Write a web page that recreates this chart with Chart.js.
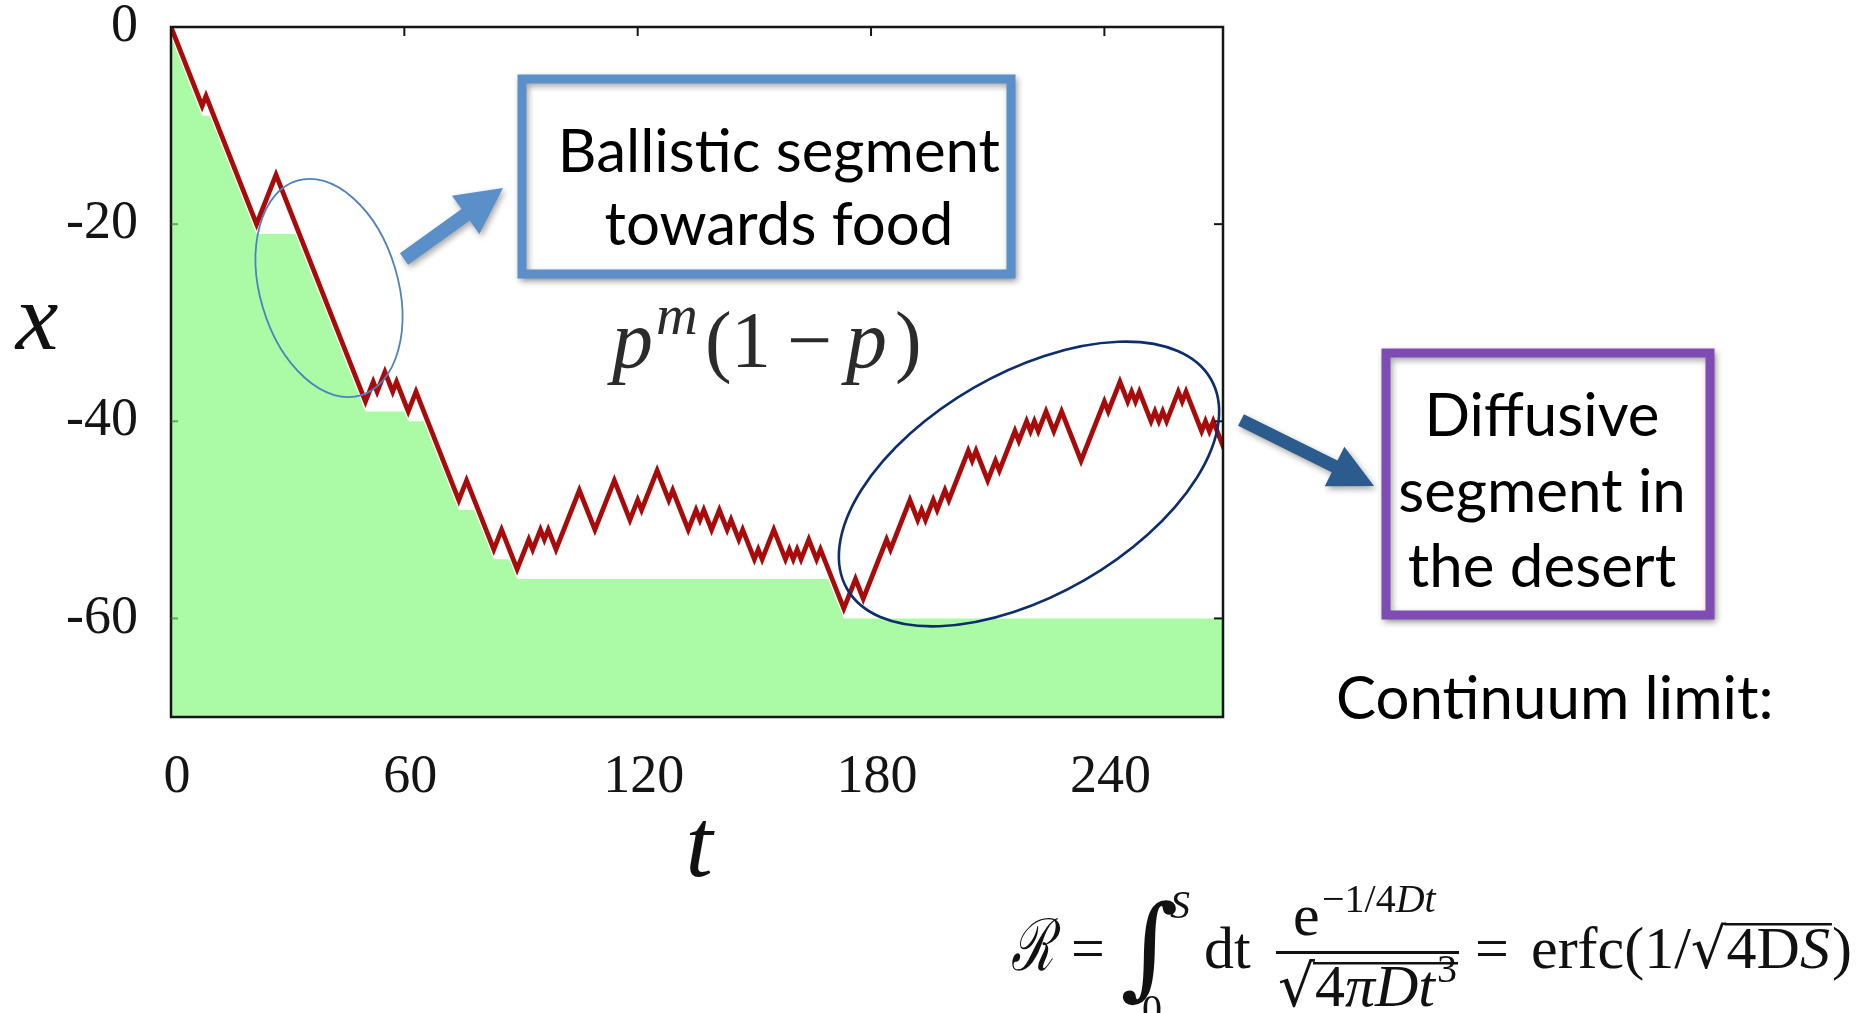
<!DOCTYPE html>
<html>
<head>
<meta charset="utf-8">
<script src="https://cdn.jsdelivr.net/npm/chart.js@4.4.1/dist/chart.umd.min.js"></script>
<style>
  html, body { margin: 0; padding: 0; background: #fff; overflow: hidden; }
  canvas { display: block; }
</style>
</head>
<body>
<canvas id="c" width="1857" height="1013" style="width:1857px;height:1013px"></canvas>
<script>
// Walker trajectory: turning points (time t, position x); unit steps between them
const walkT = [0, 8, 9, 22, 27, 50, 52, 53, 55, 57, 58, 61, 63, 74, 76, 83, 85, 89, 92, 93,
  95, 96, 97, 99, 105, 109, 114, 118, 120, 121, 125, 128, 129, 133, 135, 136, 137, 139, 141, 143,
  144, 146, 147, 150, 151, 152, 155, 158, 159, 160, 161, 162, 164, 166, 167, 173, 176, 178, 184, 185,
  190, 192, 193, 194, 196, 197, 199, 200, 205, 206, 207, 210, 212, 213, 217, 218, 220, 221, 222, 223,
  225, 227, 229, 234, 240, 241, 244, 246, 247, 248, 249, 252, 253, 254, 255, 256, 259, 260, 261, 265,
  266, 267, 268, 271];
const walkX = [0, -8, -7, -20, -15, -38, -36, -37, -35, -37, -36, -39, -37, -48, -46, -53, -51, -55, -52, -53,
  -51, -52, -51, -53, -47, -51, -46, -50, -48, -49, -45, -48, -47, -51, -49, -50, -49, -51, -49, -51,
  -50, -52, -51, -54, -53, -54, -51, -54, -53, -54, -53, -54, -52, -54, -53, -59, -56, -58, -52, -53,
  -48, -50, -49, -50, -48, -49, -47, -48, -43, -44, -43, -46, -44, -45, -41, -42, -40, -41, -40, -41,
  -39, -41, -39, -44, -38, -39, -36, -38, -37, -38, -37, -40, -39, -40, -39, -40, -37, -38, -37, -41,
  -40, -41, -40, -43];

// Food already eaten: boundary of the consumed region (green)
const floorT = [0, 8, 10, 22, 32, 50, 60, 61, 65, 74, 78, 83, 87, 89, 169, 173, 271];
const floorX = [-1, -9, -9, -21, -21, -39, -39, -40, -40, -49, -49, -54, -54, -56, -56, -60, -60];

const tTicks = [0, 60, 120, 180, 240];
const xTicks = [-60, -40, -20, 0];

const SERIF = '"Liberation Serif", "DejaVu Serif", serif';
const SANS = 'Lato, "Open Sans", "Noto Sans", sans-serif';

function arrow(ctx, x0, y0, x1, y1, shaftW, headW, headL, color) {
  const dx = x1 - x0, dy = y1 - y0, L = Math.hypot(dx, dy);
  const ux = dx / L, uy = dy / L, nx = -uy, ny = ux;
  const bx = x1 - ux * headL, by = y1 - uy * headL;
  ctx.beginPath();
  ctx.moveTo(x0 + nx * shaftW / 2, y0 + ny * shaftW / 2);
  ctx.lineTo(bx + nx * shaftW / 2, by + ny * shaftW / 2);
  ctx.lineTo(bx + nx * headW / 2, by + ny * headW / 2);
  ctx.lineTo(x1, y1);
  ctx.lineTo(bx - nx * headW / 2, by - ny * headW / 2);
  ctx.lineTo(bx - nx * shaftW / 2, by - ny * shaftW / 2);
  ctx.lineTo(x0 - nx * shaftW / 2, y0 - ny * shaftW / 2);
  ctx.closePath();
  ctx.fillStyle = color;
  ctx.fill();
}

function text(ctx, s, x, y, font, color, align) {
  ctx.font = font;
  ctx.fillStyle = color || '#111';
  ctx.textAlign = align || 'left';
  ctx.textBaseline = 'alphabetic';
  ctx.fillText(s, x, y);
  return ctx.measureText(s).width;
}

function shadowOn(ctx) {
  ctx.shadowColor = 'rgba(0,0,0,0.35)';
  ctx.shadowBlur = 6;
  ctx.shadowOffsetX = 2;
  ctx.shadowOffsetY = 3;
}

const decor = {
  id: 'decor',
  afterDraw(chart) {
    const ctx = chart.ctx, a = chart.chartArea;
    const sx = chart.scales.x, sy = chart.scales.y;
    ctx.save();

    // frame and inner tick marks
    ctx.strokeStyle = '#151515';
    ctx.lineWidth = 2.5;
    ctx.strokeRect(a.left, a.top, a.right - a.left, a.bottom - a.top);
    ctx.lineWidth = 2;
    tTicks.forEach(v => {
      if (v === 0) return;
      const px = sx.getPixelForValue(v);
      ctx.beginPath(); ctx.moveTo(px, a.top); ctx.lineTo(px, a.top + 9); ctx.stroke();
    });
    xTicks.forEach(v => {
      if (v === 0) return;
      const py = sy.getPixelForValue(v);
      ctx.strokeStyle = '#151515';
      ctx.beginPath(); ctx.moveTo(a.right, py); ctx.lineTo(a.right - 9, py); ctx.stroke();
      ctx.strokeStyle = 'rgba(60,110,60,0.6)';
      ctx.beginPath(); ctx.moveTo(a.left, py); ctx.lineTo(a.left + 7, py); ctx.stroke();
    });

    // axis titles
    text(ctx, 'x', 37, 349, 'italic 96px ' + SERIF, '#111', 'center');
    text(ctx, 't', 699, 876, 'italic 98px ' + SERIF, '#111', 'center');

    // p^m (1 - p)
    const pf = 'italic 82px ' + SERIF, rf = '80px ' + SERIF, col = '#2b2b2b';
    text(ctx, 'p', 612, 367, pf, col);
    text(ctx, 'm', 656, 334, 'italic 58px ' + SERIF, col);
    text(ctx, '(', 705, 367, rf, col);
    text(ctx, '1', 731, 367, rf, col);
    text(ctx, '\u2212', 787, 367, rf, col);
    text(ctx, 'p', 846, 367, pf, col);
    text(ctx, ')', 895, 367, rf, col);

    // ellipses around the two segments
    ctx.lineWidth = 1.8;
    ctx.strokeStyle = '#4f81bd';
    ctx.beginPath(); ctx.ellipse(329, 288, 69, 112, -16.5 * Math.PI / 180, 0, 2 * Math.PI); ctx.stroke();
    ctx.lineWidth = 2.6;
    ctx.strokeStyle = '#0d2d6c';
    ctx.beginPath(); ctx.ellipse(1029, 484, 210, 111, -30 * Math.PI / 180, 0, 2 * Math.PI); ctx.stroke();

    // callout arrows
    ctx.save(); shadowOn(ctx);
    arrow(ctx, 404, 259, 503, 188, 14, 47, 46, '#5b8fca');
    arrow(ctx, 1241, 420, 1374, 486, 13, 44, 44, '#2c5b8e');
    ctx.restore();

    // callout boxes
    ctx.save(); shadowOn(ctx);
    ctx.fillStyle = '#fff';
    ctx.lineWidth = 9;
    ctx.strokeStyle = '#5b8fca';
    ctx.fillRect(522, 79, 489, 195);
    ctx.strokeRect(522, 79, 489, 195);
    ctx.strokeStyle = '#7e4cb3';
    ctx.fillRect(1386, 353, 324, 262);
    ctx.strokeRect(1386, 353, 324, 262);
    ctx.restore();

    const bf = '60px ' + SANS;
    text(ctx, 'Ballistic segment', 779, 172, bf, '#000', 'center');
    text(ctx, 'towards food', 779, 245, bf, '#000', 'center');
    text(ctx, 'Diffusive', 1542, 436, bf, '#000', 'center');
    text(ctx, 'segment in', 1542, 512, bf, '#000', 'center');
    text(ctx, 'the desert', 1542, 587, bf, '#000', 'center');
    text(ctx, 'Continuum limit:', 1336, 719, '60px ' + SANS, '#000', 'left');

    // R = \int_0^S dt e^{-1/4Dt}/sqrt(4 pi D t^3) = erfc(1/sqrt(4DS))
    const F = '#111';
    const m = '60px ' + SERIF, mi = 'italic 60px ' + SERIF;
    const s = '40px ' + SERIF, si = 'italic 40px ' + SERIF;
    ctx.save();
    ctx.translate(1011, 970);
    ctx.scale(0.68, 1);
    text(ctx, '\u211B', 0, 0, 'italic 72px "DejaVu Serif", serif', F);
    ctx.restore();
    text(ctx, '=', 1071, 968, m, F);
    text(ctx, '\u222B', 1120, 985, 'italic 112px "DejaVu Serif", serif', F);
    text(ctx, 'S', 1170, 918, si, F);
    text(ctx, '0', 1142, 1022, s, F);
    text(ctx, 'dt', 1204, 968, m, F);
    text(ctx, 'e', 1293, 935, m, F);
    let x = 1322;
    x += text(ctx, '\u22121/4', x, 912, s, F);
    x += text(ctx, 'D', x, 912, si, F);
    text(ctx, 't', x, 912, si, F);
    ctx.fillStyle = F;
    ctx.fillRect(1276, 951, 183, 3);
    x = 1278;
    x += text(ctx, '\u221A', x, 1006, '58px "DejaVu Serif", serif', F);
    ctx.fillRect(x - 2, 962, 1458 - x + 2, 2.5);
    x += text(ctx, '4', x, 1006, m, F);
    x += text(ctx, '\u03C0', x, 1006, mi, F);
    x += text(ctx, 'D', x, 1006, mi, F);
    x += text(ctx, 't', x, 1006, mi, F);
    text(ctx, '3', x + 2, 982, s, F);
    text(ctx, '=', 1475, 968, m, F);
    x = 1531;
    x += text(ctx, 'erfc(1/', x, 968, m, F);
    x += text(ctx, '\u221A', x, 968, '56px "DejaVu Serif", serif', F);
    const ov0 = x - 2;
    x += text(ctx, '4D', x, 968, m, F);
    x += text(ctx, 'S', x, 968, mi, F);
    ctx.fillRect(ov0, 923, x - ov0 + 2, 2.5);
    text(ctx, ')', x + 2, 968, m, F);

    ctx.restore();
  }
};

new Chart(document.getElementById('c'), {
  type: 'line',
  data: {
    datasets: [
      {
        label: 'eaten',
        data: floorT.map((t, i) => ({ x: t, y: floorX[i] })),
        fill: 'start',
        backgroundColor: '#abfba6',
        borderWidth: 0,
        borderColor: 'rgba(0,0,0,0)',
        pointRadius: 0,
        tension: 0,
        order: 2
      },
      {
        label: 'walk',
        data: walkT.map((t, i) => ({ x: t, y: walkX[i] })),
        fill: false,
        borderColor: '#a90a0a',
        borderWidth: 4.8,
        borderJoinStyle: 'miter',
        pointRadius: 0,
        tension: 0,
        order: 1
      }
    ]
  },
  options: {
    responsive: false,
    animation: false,
    devicePixelRatio: 1,
    layout: { padding: { left: 0, top: 27, right: 634, bottom: 0 } },
    plugins: { legend: { display: false }, tooltip: { enabled: false } },
    scales: {
      x: {
        type: 'linear',
        min: 0,
        max: 270.5,
        afterBuildTicks: sc => { sc.ticks = tTicks.map(v => ({ value: v })); },
        afterFit: sc => { sc.height = 296; sc.paddingLeft = 0; sc.paddingRight = 0; },
        grid: { display: false },
        border: { display: false },
        ticks: {
          font: { family: SERIF, size: 54 },
          color: '#141414',
          padding: 20,
          labelOffset: 6,
          maxRotation: 0,
          autoSkip: false
        }
      },
      y: {
        type: 'linear',
        min: -70,
        max: 0,
        afterBuildTicks: sc => { sc.ticks = xTicks.map(v => ({ value: v })); },
        afterFit: sc => { sc.width = 171; sc.paddingTop = 0; sc.paddingBottom = 0; },
        grid: { display: false },
        border: { display: false },
        ticks: {
          font: { family: SERIF, size: 54 },
          color: '#141414',
          padding: 25,
          autoSkip: false
        }
      }
    }
  },
  plugins: [decor]
});
</script>
</body>
</html>
